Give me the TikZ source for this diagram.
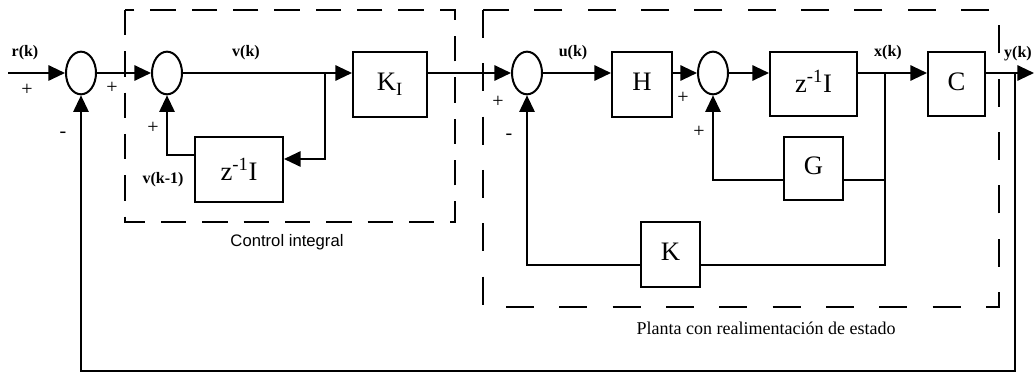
\documentclass[tikz,border=0pt]{standalone}
\usepackage{fontspec}
\setmainfont{Liberation Serif}
\newfontfamily\sansf{Liberation Sans}
\usetikzlibrary{arrows.meta,shapes.geometric,calc}
\newcommand{\up}[1]{\raisebox{3.5pt}{#1}}
\begin{document}
\begin{tikzpicture}[x=0.75pt,y=-0.75pt,
  line width=1.5pt,
  arr/.style={-{Triangle[length=12.5pt,width=11.5pt]}},
  blk/.style={draw,rectangle,inner sep=0pt,font=\fontsize{20}{20}\selectfont},
  sumnode/.style={draw,ellipse,minimum width=22.5pt,minimum height=32pt,inner sep=0pt},
  lbl/.style={font=\fontsize{12}{13}\selectfont\bfseries,inner sep=0pt},
  sgn/.style={font=\fontsize{15}{15}\selectfont,inner sep=0pt},
  dboxa/.style={line width=2.1pt,dash pattern=on 19pt off 12pt},
  dboxb/.style={line width=2.1pt,dash pattern=on 21pt off 19pt},
]
\useasboundingbox (0,0) rectangle (1035,374);

% summing junctions
\node[sumnode] (s1) at (81,73) {};
\node[sumnode] (s2) at (167,73) {};
\node[sumnode] (s3) at (527,73) {};
\node[sumnode] (s4) at (713,73) {};

% blocks
\node[blk,minimum width=66pt,minimum height=48.75pt] (zL) at (239,169.5) {z\textsuperscript{-1}I\hspace{12pt}};
\node[blk,minimum width=55.5pt,minimum height=48.75pt] (KI) at (390,84.5) {\up{K\textsubscript{I}}};
\node[blk,minimum width=45pt,minimum height=48.75pt] (H) at (642,84.5) {\up{H}};
\node[blk,minimum width=65.25pt,minimum height=48pt] (zR) at (813.5,84) {\up{z\textsuperscript{-1}I}\hspace{6pt}};
\node[blk,minimum width=42.75pt,minimum height=48pt] (C) at (956.5,84) {\up{C}};
\node[blk,minimum width=44.25pt,minimum height=47.25pt] (G) at (813.5,168.5) {\up{G}};
\node[blk,minimum width=44.25pt,minimum height=48.75pt] (K) at (670.5,254.5) {\up{K}};

% coordinates
\coordinate (in) at (8,73);
\coordinate (out) at (1034,73);
\coordinate (bv) at (325,73);
\coordinate (bvd) at (325,159);
\coordinate (lz) at (167,155);
\coordinate (bx) at (885,73);
\coordinate (bxg) at (885,180);
\coordinate (bxk) at (885,265);
\coordinate (gl) at (713,180);
\coordinate (kl) at (527,265);
\coordinate (by) at (1015,73);
\coordinate (byd) at (1015,371);
\coordinate (fl) at (81,371);

% connectors
\draw[arr] (in) -- (s1);
\draw[arr] (s1) -- (s2);
\draw[arr] (s2) -- (KI.west |- s2);
\draw[arr] (bv) -- (bvd) -- (zL.east |- bvd);
\draw[arr] (zL.west |- lz) -- (lz) -- (s2.south);
\draw[arr] (KI.east |- s3) -- (s3);
\draw[arr] (s3) -- (H.west |- s3);
\draw[arr] (H.east |- s4) -- (s4);
\draw[arr] (s4) -- (zR.west |- s4);
\draw[arr] (zR.east |- bx) -- (C.west |- bx);
\draw[arr] (C.east |- out) -- (out);
\draw (bx) -- (bxk) -- (K.east |- bxk);
\draw[arr] (K.west |- kl) -- (kl) -- (s3.south);
\draw (bxg) -- (G.east |- bxg);
\draw[arr] (G.west |- gl) -- (gl) -- (s4.south);
\draw[arr] (by) -- (byd) -- (fl) -- (s1.south);

% dashed groups
\draw[dboxa] (125,10) rectangle (455,222);
\draw[dboxb] (483,10) rectangle (999,307);

% labels
\node[lbl] (tr) at (25,53) {r(k)};
\node[lbl] (tv) at (246,53) {v(k)};
\node[lbl] (tv1) at (163,180) {v(k-1)};
\node[lbl] (tu) at (573,53) {u(k)};
\node[lbl] (tx) at (888,53) {x(k)};
\node[lbl] (ty) at (1018,54) {y(k)};

\node[sgn] (p1) at (27,90) {+};
\node[sgn] (p2) at (112,88) {+};
\node[sgn] (m1) at (63,135) {-};
\node[sgn] (p3) at (153,128) {+};
\node[sgn] (p4) at (498,102) {+};
\node[sgn] (m2) at (509,137) {-};
\node[sgn] (p5) at (683,98) {+};
\node[sgn] (p6) at (699,132) {+};

\node[font=\sansf\fontsize{12.5}{13}\selectfont] (tci) at (287,242) {Control integral};
\node[font=\fontsize{13.5}{14}\selectfont] (tpl) at (766,328) {Planta con realimentación de estado};
\end{tikzpicture}
\end{document}
